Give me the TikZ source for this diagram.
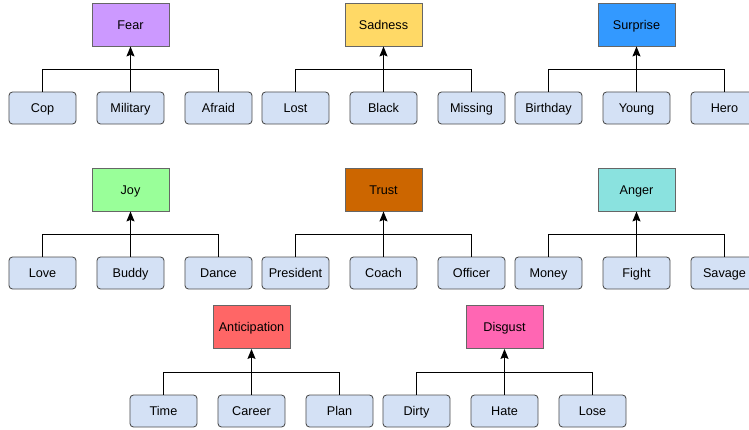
\documentclass[tikz,border=0pt]{standalone}
\usepackage{fontspec}
\setmainfont{Liberation Sans}
\usepackage{xcolor}
\usepackage{tikz}
\usetikzlibrary{positioning, arrows.meta, calc}

\definecolor{fearc}{HTML}{CC99FF}
\definecolor{sadc}{HTML}{FFD966}
\definecolor{surpc}{HTML}{3399FF}
\definecolor{joyc}{HTML}{99FF99}
\definecolor{trustc}{HTML}{CC6600}
\definecolor{angerc}{HTML}{8AE2DF}
\definecolor{antic}{HTML}{FF6666}
\definecolor{disgc}{HTML}{FF66B3}
\definecolor{wordc}{HTML}{D4E1F5}

\begin{document}
\begin{tikzpicture}[
          x=0.025cm, y=-0.025cm,
          emo/.style={draw=black!60, fill=#1, minimum width=1.925cm, minimum height=1.075cm, inner sep=0pt, text height=8pt, text depth=1.5pt, font=\fontsize{9}{11}\selectfont, line width=0.6pt},
          word/.style={draw=black!70, fill=wordc, rounded corners=2.5pt, minimum width=1.675cm, minimum height=0.8cm, inner sep=0pt, text height=8pt, text depth=1.5pt, font=\fontsize{9}{11}\selectfont, line width=0.6pt},
          lnk/.style={line width=0.7pt},
          up/.style={-{Stealth[length=2.5mm, width=2mm, inset=0.4mm]}, line width=0.7pt},
        ]
        \clip (0,0) rectangle (749,429);
        % row 1
        \node[emo=fearc] (fear) at (130.5,24.5) {Fear};
        \node[word] (cop) at (42.5,108) {Cop};
        \node[word] (military) at (130.5,108) {Military};
        \node[word] (afraid) at (218.5,108) {Afraid};
        \draw[lnk] (cop.north) -- ++(0,-22) -| (afraid.north);
        \draw[up] (military) -- (fear);

        \node[emo=sadc] (sadness) at (383.5,24.5) {Sadness};
        \node[word] (lost) at (295.5,108) {Lost};
        \node[word] (black) at (383.5,108) {Black};
        \node[word] (missing) at (471.5,108) {Missing};
        \draw[lnk] (lost.north) -- ++(0,-22) -| (missing.north);
        \draw[up] (black) -- (sadness);

        \node[emo=surpc] (surprise) at (636.5,24.5) {Surprise};
        \node[word] (birthday) at (548.5,108) {Birthday};
        \node[word] (young) at (636.5,108) {Young};
        \node[word] (hero) at (724.5,108) {Hero};
        \draw[lnk] (birthday.north) -- ++(0,-22) -| (hero.north);
        \draw[up] (young) -- (surprise);

        % row 2
        \node[emo=joyc] (joy) at (130.5,189.5) {Joy};
        \node[word] (love) at (42.5,273) {Love};
        \node[word] (buddy) at (130.5,273) {Buddy};
        \node[word] (dance) at (218.5,273) {Dance};
        \draw[lnk] (love.north) -- ++(0,-22) -| (dance.north);
        \draw[up] (buddy) -- (joy);

        \node[emo=trustc] (trust) at (383.5,189.5) {Trust};
        \node[word] (president) at (295.5,273) {President};
        \node[word] (coach) at (383.5,273) {Coach};
        \node[word] (officer) at (471.5,273) {Officer};
        \draw[lnk] (president.north) -- ++(0,-22) -| (officer.north);
        \draw[up] (coach) -- (trust);

        \node[emo=angerc] (anger) at (636.5,189.5) {Anger};
        \node[word] (money) at (548.5,273) {Money};
        \node[word] (fight) at (636.5,273) {Fight};
        \node[word] (savage) at (724.5,273) {Savage};
        \draw[lnk] (money.north) -- ++(0,-22) -| (savage.north);
        \draw[up] (fight) -- (anger);

        % row 3
        \node[emo=antic] (anticipation) at (251.5,327) {Anticipation};
        \node[word] (time) at (163.5,411) {Time};
        \node[word] (career) at (251.5,411) {Career};
        \node[word] (plan) at (339.5,411) {Plan};
        \draw[lnk] (time.north) -- ++(0,-22) -| (plan.north);
        \draw[up] (career) -- (anticipation);

        \node[emo=disgc] (disgust) at (504.5,327) {Disgust};
        \node[word] (dirty) at (416.5,411) {Dirty};
        \node[word] (hate) at (504.5,411) {Hate};
        \node[word] (lose) at (592.5,411) {Lose};
        \draw[lnk] (dirty.north) -- ++(0,-22) -| (lose.north);
        \draw[up] (hate) -- (disgust);
        \end{tikzpicture}
\end{document}
